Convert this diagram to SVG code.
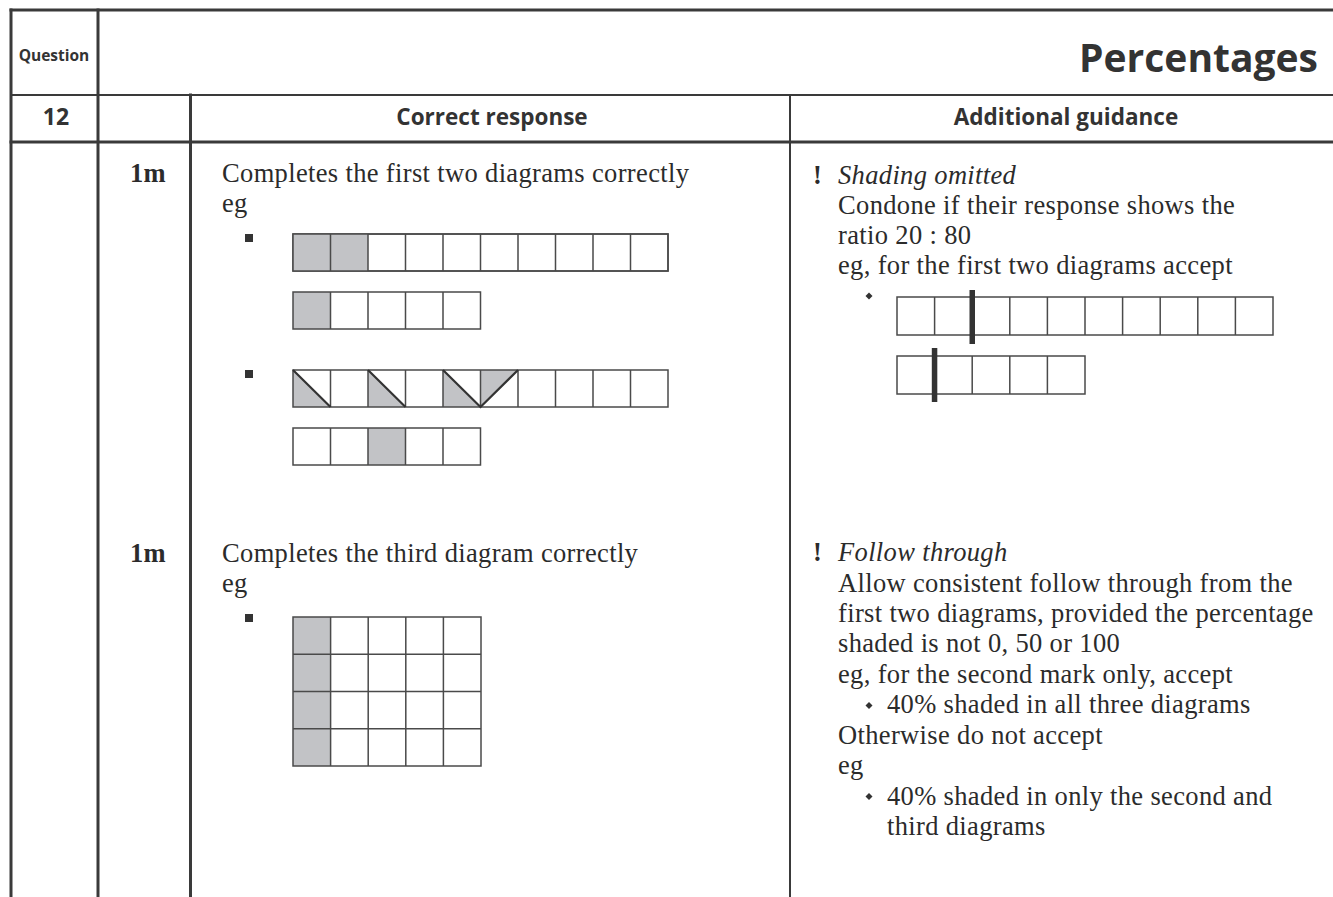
<svg xmlns="http://www.w3.org/2000/svg" width="1333" height="897" viewBox="0 0 1333 897">
<style>
.frame{stroke:#3a3a3a;fill:none;stroke-linecap:square}
.thick{stroke-width:3}
.thin{stroke-width:2}
.cell{fill:#fff;stroke:#4a4a4a;stroke-width:1.5}
.sh{fill:#c2c3c6}
.sans{font-family:"Open Sans","Noto Sans",sans-serif;font-weight:bold;fill:#333}
.serif{font-family:"Liberation Serif","Times New Roman",serif;font-size:26.5px;letter-spacing:0.35px;fill:#2b2b2b}
.it{font-style:italic}
.b{font-weight:bold}
.mark{fill:#333}
</style>
<rect width="1333" height="897" fill="#fff"/>

<g id="table">
  <line class="frame thick" x1="11" y1="10" x2="1333" y2="10"/>
  <line class="frame thin" x1="11" y1="95" x2="1333" y2="95"/>
  <line class="frame thick" x1="11" y1="142" x2="1333" y2="142"/>
  <line class="frame thick" x1="11" y1="10" x2="11" y2="897"/>
  <line class="frame thick" x1="98" y1="10" x2="98" y2="897"/>
  <line class="frame thick" x1="190.5" y1="95" x2="190.5" y2="897"/>
  <line class="frame thin" x1="790" y1="95" x2="790" y2="897"/>
</g>

<g id="header">
  <text class="sans" x="54" y="61" font-size="15.5" text-anchor="middle">Question</text>
  <text class="sans" x="1318" y="72" font-size="39" text-anchor="end">Percentages</text>
  <text class="sans" x="56" y="125" font-size="23" text-anchor="middle">12</text>
  <text class="sans" x="492" y="125" font-size="22.5" text-anchor="middle">Correct response</text>
  <text class="sans" x="1066" y="125" font-size="22.5" text-anchor="middle">Additional guidance</text>
</g>

<g id="mark1">
  <text class="serif b" x="130" y="182" font-size="24">1m</text>
  <text class="serif" x="222" y="182">Completes the first two diagrams correctly</text>
  <text class="serif" x="222" y="212">eg</text>
</g>

<g id="diagram-row1">
  <rect class="mark" x="245" y="234" width="8" height="8"/>
  <rect class="cell" x="293" y="234" width="375" height="37"/>
  <rect class="sh" x="293" y="234" width="75" height="37"/>
  <g class="cell">
    <rect x="293" y="234" width="375" height="37" fill="none"/>
    <path d="M330.5 234v37M368 234v37M405.5 234v37M443 234v37M480.5 234v37M518 234v37M555.5 234v37M593 234v37M630.5 234v37" fill="none"/>
  </g>
</g>

<g id="diagram-row2">
  <rect class="sh" x="293" y="292" width="37.5" height="37"/>
  <g class="cell">
    <rect x="293" y="292" width="187.5" height="37" fill="none"/>
    <path d="M330.5 292v37M368 292v37M405.5 292v37M443 292v37" fill="none"/>
  </g>
</g>

<g id="diagram-row3">
  <rect class="mark" x="245" y="370" width="8" height="8"/>
  <polygon class="sh" points="293,370 330.5,407 293,407"/>
  <polygon class="sh" points="368,370 405.5,407 368,407"/>
  <polygon class="sh" points="443,370 480.5,407 443,407"/>
  <polygon class="sh" points="480.5,370 518,370 480.5,407"/>
  <g class="cell">
    <rect x="293" y="370" width="375" height="37" fill="none"/>
    <path d="M330.5 370v37M368 370v37M405.5 370v37M443 370v37M480.5 370v37M518 370v37M555.5 370v37M593 370v37M630.5 370v37" fill="none"/>
  </g>
  <path d="M293 370L330.5 407M368 370L405.5 407M443 370L480.5 407L518 370" fill="none" stroke="#333" stroke-width="2.2"/>
</g>

<g id="diagram-row4">
  <rect class="sh" x="368" y="428" width="37.5" height="37"/>
  <g class="cell">
    <rect x="293" y="428" width="187.5" height="37" fill="none"/>
    <path d="M330.5 428v37M368 428v37M405.5 428v37M443 428v37" fill="none"/>
  </g>
</g>

<g id="guidance1">
  <text class="serif b" x="813" y="184">!</text>
  <text class="serif it" x="838" y="184">Shading omitted</text>
  <text class="serif" x="838" y="214">Condone if their response shows the</text>
  <text class="serif" x="838" y="244">ratio 20 : 80</text>
  <text class="serif" x="838" y="274">eg, for the first two diagrams accept</text>
  <path class="mark" d="M869 292.5l3.5 3.5-3.5 3.5-3.5-3.5z"/>
</g>

<g id="ratio-row1">
  <g class="cell">
    <rect x="897" y="297" width="376" height="38" fill="none"/>
    <path d="M934.6 297v38M972.2 297v38M1009.8 297v38M1047.4 297v38M1085 297v38M1122.6 297v38M1160.2 297v38M1197.8 297v38M1235.4 297v38" fill="none"/>
  </g>
  <rect class="mark" x="969.5" y="290" width="5.5" height="54"/>
</g>

<g id="ratio-row2">
  <g class="cell">
    <rect x="897" y="356" width="188" height="38" fill="none"/>
    <path d="M934.6 356v38M972.2 356v38M1009.8 356v38M1047.4 356v38" fill="none"/>
  </g>
  <rect class="mark" x="931.8" y="348" width="5.5" height="54"/>
</g>

<g id="mark2">
  <text class="serif b" x="130" y="562" font-size="24">1m</text>
  <text class="serif" x="222" y="562">Completes the third diagram correctly</text>
  <text class="serif" x="222" y="592">eg</text>
</g>

<g id="grid">
  <rect class="mark" x="245" y="614" width="8" height="8"/>
  <rect class="sh" x="293" y="617" width="37.5" height="149"/>
  <g class="cell">
    <rect x="293" y="617" width="188" height="149" fill="none"/>
    <path d="M330.6 617v149M368.2 617v149M405.8 617v149M443.4 617v149M293 654.25h188M293 691.5h188M293 728.75h188" fill="none"/>
  </g>
</g>

<g id="guidance2">
  <text class="serif b" x="813" y="561">!</text>
  <text class="serif it" x="838" y="561">Follow through</text>
  <text class="serif" x="838" y="592">Allow consistent follow through from the</text>
  <text class="serif" x="838" y="622">first two diagrams, provided the percentage</text>
  <text class="serif" x="838" y="652">shaded is not 0, 50 or 100</text>
  <text class="serif" x="838" y="683">eg, for the second mark only, accept</text>
  <path class="mark" d="M869 702l3.5 3.5-3.5 3.5-3.5-3.5z"/>
  <text class="serif" x="887" y="713">40% shaded in all three diagrams</text>
  <text class="serif" x="838" y="744">Otherwise do not accept</text>
  <text class="serif" x="838" y="774">eg</text>
  <path class="mark" d="M869 793l3.5 3.5-3.5 3.5-3.5-3.5z"/>
  <text class="serif" x="887" y="805">40% shaded in only the second and</text>
  <text class="serif" x="887" y="835">third diagrams</text>
</g>
</svg>
